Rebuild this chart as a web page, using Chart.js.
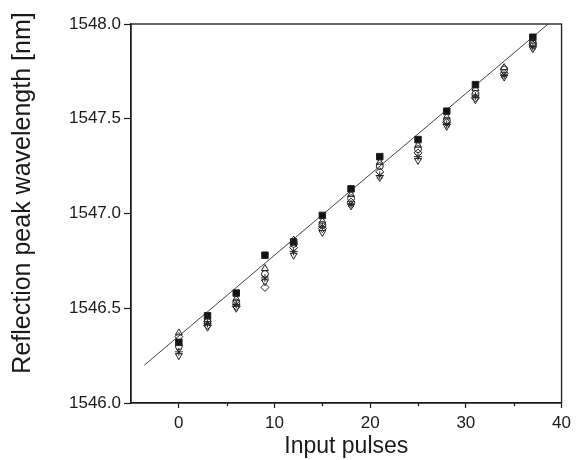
<!DOCTYPE html>
<html>
<head>
<meta charset="utf-8">
<script src="https://cdn.jsdelivr.net/npm/chart.js@4/dist/chart.umd.min.js"></script>
<style>
  html, body { margin: 0; padding: 0; background: #fff; }
  #wrap { width: 576px; height: 460px; }
</style>
</head>
<body>
<div id="wrap"><canvas id="myChart" width="576" height="460"></canvas></div>
<script>
// pulse counts
const pulses = [0, 3, 6, 9, 12, 15, 18, 21, 25, 28, 31, 34, 37];

// peak wavelength [nm], one list per measured grating
const gratingA = [1546.32, 1546.46, 1546.58, 1546.78, 1546.85, 1546.99, 1547.13, 1547.30, 1547.39, 1547.54, 1547.68, null, 1547.93];
const gratingB = [1546.37, 1546.44, 1546.55, 1546.71, 1546.86, 1546.96, 1547.10, 1547.27, 1547.36, 1547.51, 1547.66, 1547.77, 1547.91];
const gratingC = [1546.30, 1546.43, 1546.53, 1546.68, 1546.84, 1546.94, 1547.08, 1547.25, 1547.34, 1547.49, 1547.63, 1547.76, 1547.90];
const gratingD = [1546.35, 1546.41, 1546.51, 1546.61, 1546.82, 1546.92, 1547.06, 1547.22, 1547.32, 1547.48, 1547.61, 1547.74, 1547.89];
const gratingE = [1546.27, 1546.42, 1546.52, 1546.66, 1546.80, 1546.93, 1547.05, 1547.20, 1547.30, 1547.47, 1547.62, 1547.73, 1547.88];
const gratingF = [1546.25, 1546.40, 1546.50, 1546.64, 1546.78, 1546.90, 1547.04, 1547.19, 1547.28, 1547.46, 1547.60, 1547.72, 1547.87];

// linear fit end points
const fitX = [-3.6, 38.6];
const fitY = [1546.20, 1548.00];

// axis ticks
const xTicks = [0, 10, 20, 30, 40];
const xMinorTicks = [5, 15, 25, 35];
const yTicks = [1546.0, 1546.5, 1547.0, 1547.5, 1548.0];

const ink = '#1a1a1a';

function pts(ys) {
    return pulses.map((x, i) => ({ x: x, y: ys[i] })).filter(p => p.y !== null);
}

function series(ys, style, fill, radius, rot) {
    return {
        type: 'scatter',
        data: pts(ys),
        pointStyle: style,
        pointRadius: radius,
        pointRotation: rot || 0,
        pointBackgroundColor: fill,
        pointBorderColor: '#222',
        pointBorderWidth: 1,
        order: 1
    };
}

// box round the plot + minor x ticks + y title
const frame = {
    id: 'frame',
    afterDraw(chart) {
        const { ctx, chartArea } = chart;
        const xs = chart.scales.x;
        ctx.save();
        ctx.strokeStyle = ink;
        ctx.lineWidth = 1.3;
        ctx.strokeRect(chartArea.left, chartArea.top, chartArea.right - chartArea.left, chartArea.bottom - chartArea.top);
        ctx.lineWidth = 1.2;
        xMinorTicks.forEach(v => {
            const px = Math.round(xs.getPixelForValue(v)) + 0.5;
            ctx.beginPath();
            ctx.moveTo(px, chartArea.bottom);
            ctx.lineTo(px, chartArea.bottom + 3);
            ctx.stroke();
        });
        ctx.fillStyle = ink;
        ctx.font = '25px Arial, "Liberation Sans", sans-serif';
        ctx.textAlign = 'center';
        ctx.textBaseline = 'middle';
        ctx.translate(23, 193);
        ctx.rotate(-Math.PI / 2);
        ctx.fillText('Reflection peak wavelength [nm]', 0, 0);
        ctx.restore();
    }
};

const ctx = document.getElementById('myChart').getContext('2d');
new Chart(ctx, {
    data: {
        datasets: [
            {
                type: 'line',
                data: fitX.map((x, i) => ({ x: x, y: fitY[i] })),
                borderColor: '#444',
                borderWidth: 1,
                pointRadius: 0,
                fill: false,
                order: 2
            },
            series(gratingB, 'triangle', 'rgba(0,0,0,0)', 4),
            series(gratingC, 'circle', 'rgba(0,0,0,0)', 3.5),
            series(gratingD, 'rectRot', 'rgba(0,0,0,0)', 4),
            series(gratingE, 'star', 'rgba(0,0,0,0)', 4),
            series(gratingF, 'triangle', 'rgba(0,0,0,0)', 4, 180),
            series(gratingA, 'rect', '#111', 4.6)
        ]
    },
    options: {
        responsive: false,
        animation: false,
        layout: { padding: { left: 0, right: 10, top: 24, bottom: 0 } },
        plugins: {
            legend: { display: false },
            tooltip: { enabled: false }
        },
        scales: {
            x: {
                type: 'linear',
                min: -5,
                max: 40,
                afterBuildTicks: s => { s.ticks = xTicks.map(v => ({ value: v })); },
                afterFit: s => { s.height = 57; },
                ticks: {
                    color: ink,
                    padding: 5,
                    font: { family: 'Arial, "Liberation Sans", sans-serif', size: 17 },
                    callback: v => String(v)
                },
                grid: { drawOnChartArea: false, tickLength: 5, tickColor: ink, tickWidth: 1.2 },
                border: { color: ink, width: 1.3 },
                title: {
                    display: true,
                    text: 'Input pulses',
                    color: ink,
                    font: { family: 'Arial, "Liberation Sans", sans-serif', size: 23 },
                    padding: { top: 0, bottom: 0 }
                }
            },
            y: {
                type: 'linear',
                min: 1546.0,
                max: 1548.0,
                afterBuildTicks: s => { s.ticks = yTicks.map(v => ({ value: v })); },
                afterFit: s => { s.width = 131; },
                ticks: {
                    color: ink,
                    padding: 3,
                    font: { family: 'Arial, "Liberation Sans", sans-serif', size: 17 },
                    callback: v => Number(v).toFixed(1)
                },
                grid: { drawOnChartArea: false, tickLength: 7, tickColor: ink, tickWidth: 1.2 },
                border: { color: ink, width: 1.3 }
            }
        }
    },
    plugins: [frame]
});
</script>
</body>
</html>
